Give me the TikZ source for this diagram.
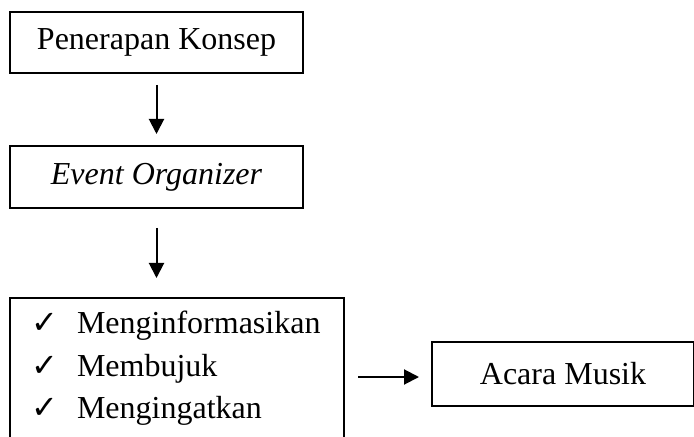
\documentclass[tikz,border=0pt]{standalone}
\usepackage{fontspec}
\setmainfont{Liberation Serif}
\newfontfamily\checkfont{DejaVu Sans}
\usetikzlibrary{positioning,arrows.meta}
\definecolor{ink}{RGB}{0,0,0}
\newcommand{\tick}{\makebox[22.5pt][l]{\checkfont\bfseries\fontsize{16pt}{16pt}\selectfont ✓}}
\tikzset{
  box/.style={draw=ink, line width=1pt, align=center, inner sep=0pt, text=ink,
              font=\fontsize{16pt}{21.3pt}\selectfont},
  arr/.style={-{Triangle[length=7.5pt, width=7.5pt]}, line width=1pt, draw=ink},
}

\begin{document}
\begin{tikzpicture}
  \clip (0,0) rectangle (347pt,-218.5pt);

  \node[box, minimum width=146.5pt, minimum height=30.5pt] (konsep)
    at (78.25pt,-21.25pt) {Penerapan Konsep};
  \node[box, below=35.5pt of konsep, minimum width=146.5pt, minimum height=31pt] (eo)
    {\itshape Event Organizer};

  % list of functions (box runs past the bottom edge)
  \node[box, below=44pt of eo.south west, anchor=north west, align=left,
        text width=145pt, inner xsep=11pt, minimum height=79pt] (fungsi)
    {\tick Menginformasikan\\
     \tick Membujuk\\
     \tick Mengingatkan\rule[-12pt]{0pt}{1pt}};
  \node[box, right=43pt of fungsi, yshift=1.5pt, minimum width=131pt, minimum height=32pt] (acara)
    {Acara Musik};

  \draw[arr, shorten <=5.5pt, shorten >=5.5pt] (konsep) -- (eo);
  \draw[arr, shorten <=9.5pt, shorten >=9.5pt] (eo) -- (fungsi.north -| eo.south);
  \draw[arr, shorten <=6.5pt, shorten >=6pt] (fungsi.east) -- (fungsi.east -| acara.west);
\end{tikzpicture}
\end{document}
